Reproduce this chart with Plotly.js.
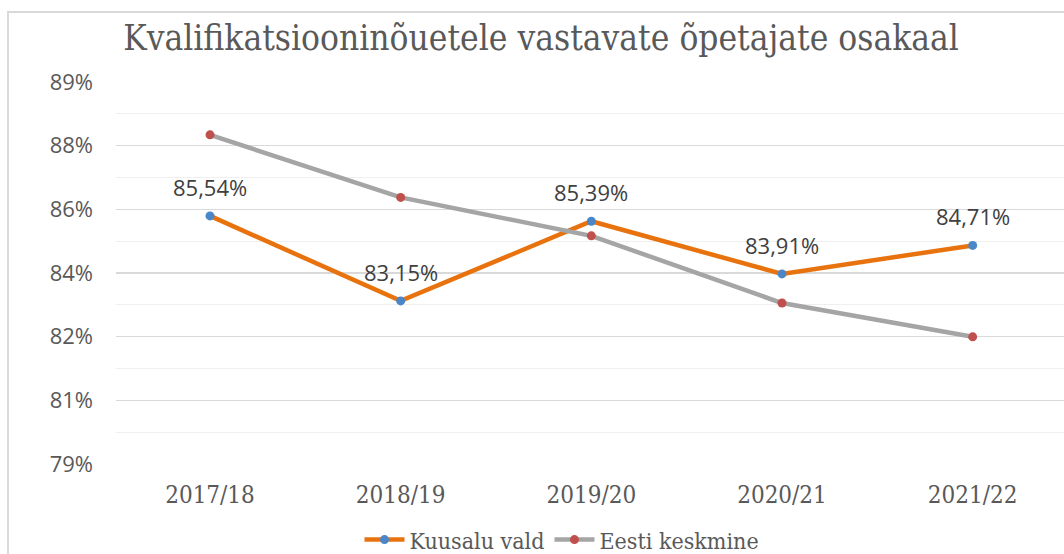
<!DOCTYPE html>
<html>
<head>
<meta charset="utf-8">
<script src="https://cdn.plot.ly/plotly-3.0.1.min.js"></script>
<style>
  html, body { margin: 0; padding: 0; background: #ffffff; overflow: hidden; }
  #chart { width: 1064px; height: 554px; }
</style>
</head>
<body>
<div id="chart"></div>
<script>
// ---- data ----
const categories = ["2017/18", "2018/19", "2019/20", "2020/21", "2021/22"];
const kuusaluValues = [85.54, 83.15, 85.39, 83.91, 84.71];
const eestiValues = [87.82, 86.06, 84.98, 83.09, 82.14];
const seriesNames = ["Kuusalu vald", "Eesti keskmine"];
const yTickValues = [78.565, 80.355, 82.145, 83.935, 85.725, 87.515, 89.305];
const yTickLabels = ["79%", "81%", "82%", "84%", "86%", "88%", "89%"];
const chartTitle = "Kvalifikatsiooninõuetele vastavate õpetajate osakaal";

const serifFont = "'DejaVu Serif Condensed', 'Liberation Serif', serif";
const sansFont = "'Open Sans', 'Noto Sans', sans-serif";

const traces = [
  {
    x: categories, y: kuusaluValues, name: seriesNames[0],
    type: "scatter", mode: "lines+markers",
    line: { color: "#E8730E", width: 4.5 },
    marker: { color: "#4A86C8", size: 9 }
  },
  {
    x: categories, y: eestiValues, name: seriesNames[1],
    type: "scatter", mode: "lines+markers",
    line: { color: "#A5A5A5", width: 4.5 },
    marker: { color: "#C0504D", size: 9 }
  }
];

const annotations = categories.map((c, i) => ({
  x: c, y: kuusaluValues[i], xref: "x", yref: "y",
  text: kuusaluValues[i].toFixed(2).replace(".", ",") + "%",
  showarrow: false, yshift: 29,
  font: { family: sansFont, size: 22, color: "#404040" }
}));

const layout = {
  width: 1064, height: 554,
  margin: { l: 116, r: 0, t: 82, b: 90, autoexpand: false },
  paper_bgcolor: "#ffffff", plot_bgcolor: "#ffffff",
  title: {
    text: chartTitle,
    x: (541 / 1064), xanchor: "center", xref: "container",
    y: 1 - 38 / 554, yanchor: "middle", yref: "container",
    font: { family: serifFont, size: 35, color: "#595959" }
  },
  xaxis: {
    type: "category",
    range: [-0.493, 4.479],
    showgrid: false, zeroline: false, showline: false,
    ticks: "",
    ticklabelstandoff: 14,
    tickfont: { family: serifFont, size: 24, color: "#595959" }
  },
  yaxis: {
    range: [78.565, 89.305],
    tickmode: "array", tickvals: yTickValues, ticktext: yTickLabels,
    showgrid: true, gridcolor: "#d9d9d9", gridwidth: 1.5,
    zeroline: false, showline: false, ticks: "",
    ticklabelstandoff: 22,
    tickfont: { family: sansFont, size: 22, color: "#595959" },
    minor: {
      tickmode: "linear", tick0: 79.46, dtick: 1.79,
      showgrid: true, gridcolor: "#efefef", gridwidth: 1.2, ticks: ""
    }
  },
  showlegend: true,
  legend: {
    orientation: "h",
    x: (562 - 116) / 948, xanchor: "center",
    y: (464.3 - 540) / 382.3, yanchor: "middle",
    font: { family: serifFont, size: 23, color: "#595959" },
    itemwidth: 40
  },
  annotations: annotations,
  shapes: [{
    type: "rect", xref: "paper", yref: "paper",
    x0: (8 - 116) / 948, x1: 1.2,
    y0: -0.5, y1: 1 + (82 - 12) / 382.3,
    line: { color: "#d9d9d9", width: 2 },
    fillcolor: "rgba(0,0,0,0)", layer: "below"
  }]
};

Plotly.newPlot("chart", traces, layout, { displayModeBar: false, staticPlot: true });
</script>
</body>
</html>
